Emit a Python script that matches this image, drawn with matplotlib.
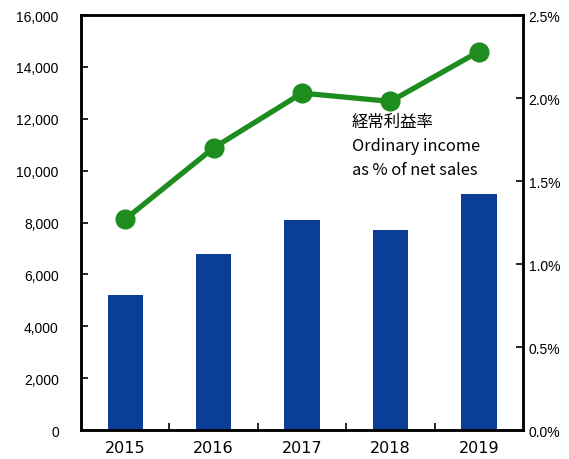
import matplotlib.pyplot as plt
import numpy as np
from matplotlib.ticker import FuncFormatter, MultipleLocator

# values
years = ['2015', '2016', '2017', '2018', '2019']
ordinary_income = [5200, 6800, 8100, 7700, 9100]
income_ratio = [1.27, 1.70, 2.03, 1.98, 2.28]  # % of net sales

bar_color = '#0B3F97'
line_color = '#1E8C1E'

fig = plt.figure(figsize=(5.69, 4.6), dpi=100)
ax = fig.add_axes([0.1424, 0.063, 0.7768, 0.902])
ax2 = ax.twinx()

x = np.arange(len(years))
ax.bar(x, ordinary_income, width=0.4, color=bar_color, zorder=2)
ax.set_xlim(-0.5, len(years) - 0.5)
ax.set_ylim(0, 16000)
ax.yaxis.set_major_locator(MultipleLocator(2000))
ax.yaxis.set_major_formatter(FuncFormatter(lambda v, p: f'{int(v):,}'))

# year labels at the centers, tick marks between categories
ax.set_xticks(x)
ax.set_xticklabels(years, fontsize=11.5, family='DejaVu Sans')
ax.tick_params(axis='x', length=0, pad=7)
ax.set_xticks(np.arange(0.5, len(years) - 0.5, 1), minor=True)
ax.tick_params(axis='x', which='minor', direction='in', length=5, width=1.2)
ax.tick_params(axis='y', direction='in', length=5, width=1.2, pad=16, labelsize=10)
for lbl in ax.get_yticklabels():
    lbl.set_family('Liberation Sans')

ax2.plot(x, income_ratio, color=line_color, lw=3.8, marker='o', markersize=13.5, zorder=3)
ax2.set_ylim(0, 2.5)
ax2.yaxis.set_major_locator(MultipleLocator(0.5))
ax2.yaxis.set_major_formatter(FuncFormatter(lambda v, p: f'{v:.1f}%'))
ax2.tick_params(axis='y', direction='in', length=5, width=1.2, pad=4, labelsize=10)
for lbl in ax2.get_yticklabels():
    lbl.set_family('Liberation Sans')

for a in (ax, ax2):
    for s in a.spines.values():
        s.set_linewidth(1.8)

ax2.text(0.613, 0.765, '経常利益率\nOrdinary income\nas % of net sales',
         transform=ax.transAxes, va='top', ha='left', fontsize=11.8,
         linespacing=1.55, family=['Noto Sans CJK JP', 'DejaVu Sans'])

fig.savefig('out.png', dpi=100)
